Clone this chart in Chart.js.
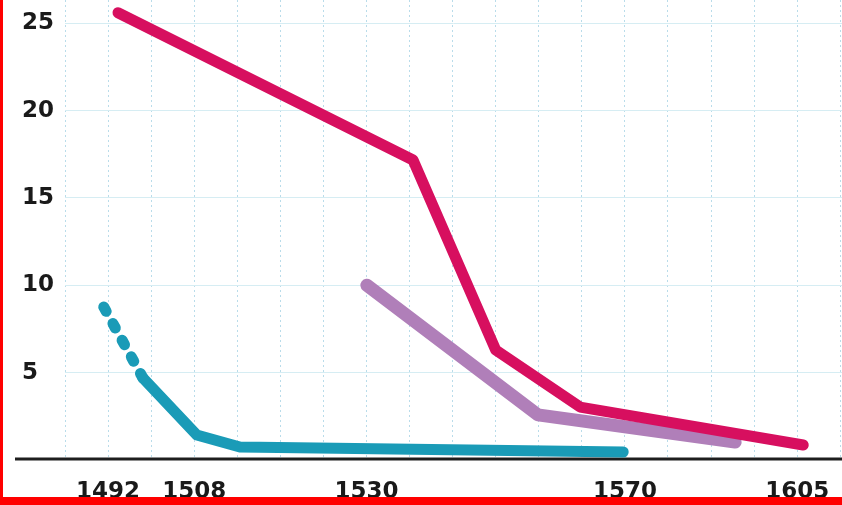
<!DOCTYPE html>
<html>
<head>
<meta charset="utf-8">
<script src="https://cdn.jsdelivr.net/npm/chart.js@4.4.1/dist/chart.umd.min.js"></script>
<style>
  html, body { margin: 0; padding: 0; background: #fff; }
  #wrap { position: relative; width: 842px; height: 505px; overflow: hidden; }
  #chart { position: absolute; left: 0; top: 0; }
  .edge { position: absolute; background: #ff0000; }
</style>
</head>
<body>
<div id="wrap">
  <canvas id="chart" width="842" height="505"></canvas>
  <div class="edge" style="left:0;top:0;width:3px;height:505px"></div>
  <div class="edge" style="left:0;top:497px;width:842px;height:8px"></div>
</div>
<script>
// x is measured in grid columns (0..18), labels sit on some of them
const gridCols = 18;
const xTickPos = [1, 3, 7, 13, 17];
const xTickLabels = ["1492", "1508", "1530", "1570", "1605"];
const yTicks = [5, 10, 15, 20, 25];

const magentaX = [1.23, 8.08, 10, 11.96, 17.14];
const magentaY = [25.6, 17.17, 6.3, 3.03, 0.86];
const purpleX = [7.01, 10.98, 15.56];
const purpleY = [10.0, 2.58, 1.03];
const tealX = [0.9, 1.81, 3.06, 4.06, 12.96];
const tealY = [8.76, 4.69, 1.43, 0.74, 0.46];

const toPoints = (xs, ys) => xs.map((x, i) => ({ x: x, y: ys[i] }));

const tickFont = { family: "DejaVu Sans", size: 23, weight: "bold" };

const baseline = {
  id: "baseline",
  beforeDatasetsDraw(chart) {
    const ctx = chart.ctx;
    const y = chart.scales.y.getPixelForValue(0) - 1;
    ctx.save();
    ctx.strokeStyle = "#1e1e1e";
    ctx.lineWidth = 3;
    ctx.beginPath();
    ctx.moveTo(15, y);
    ctx.lineTo(chart.width, y);
    ctx.stroke();
    ctx.restore();
  },
};

const canvas = document.querySelector("#chart");
const myChart = new Chart(canvas, {
  type: "line",
  data: {
    datasets: [
      {
        label: "magenta",
        data: toPoints(magentaX, magentaY),
        borderColor: "#d70f5f",
        borderWidth: 11,
      },
      {
        label: "purple",
        data: toPoints(purpleX, purpleY),
        borderColor: "#b07fb9",
        borderWidth: 13,
      },
      {
        label: "teal",
        data: toPoints(tealX, tealY),
        borderColor: "#1a9bb7",
        borderWidth: 11,
        segment: {
          borderDash: (ctx) => (ctx.p0DataIndex === 0 ? [5, 14] : undefined),
        },
      },
    ],
  },
  options: {
    responsive: false,
    animation: false,
    layout: { padding: { left: 22, right: 0, top: 0, bottom: 0 } },
    elements: {
      point: { radius: 0 },
      line: { borderCapStyle: "round", borderJoinStyle: "round", tension: 0 },
    },
    scales: {
      x: {
        type: "linear",
        min: 0,
        max: 18.04,
        afterBuildTicks: (s) => {
          const t = [];
          for (let i = 0; i <= gridCols; i++) t.push({ value: i });
          s.ticks = t;
        },
        afterFit: (s) => {
          s.height = 45;
          s.paddingLeft = 0;
          s.paddingRight = 0;
        },
        ticks: {
          autoSkip: false,
          maxRotation: 0,
          padding: 18,
          color: "#1a1a1a",
          font: tickFont,
          callback: (value) => {
            const i = xTickPos.indexOf(value);
            return i < 0 ? "" : xTickLabels[i];
          },
        },
        grid: { color: "#b9dcea", lineWidth: 1, drawTicks: false },
        border: { display: false, dash: [2, 3] },
      },
      y: {
        min: 0,
        max: 26.33,
        afterBuildTicks: (s) => {
          s.ticks = yTicks.map((v) => ({ value: v }));
        },
        afterFit: (s) => {
          s.width = 43;
          s.paddingTop = 0;
          s.paddingBottom = 0;
        },
        ticks: {
          crossAlign: "far",
          padding: 0,
          color: "#1a1a1a",
          font: tickFont,
        },
        grid: { color: "#d6edf3", lineWidth: 1, drawTicks: false },
        border: { display: false },
      },
    },
    plugins: {
      legend: { display: false },
      tooltip: { enabled: false },
    },
  },
  plugins: [baseline],
});
</script>
</body>
</html>
